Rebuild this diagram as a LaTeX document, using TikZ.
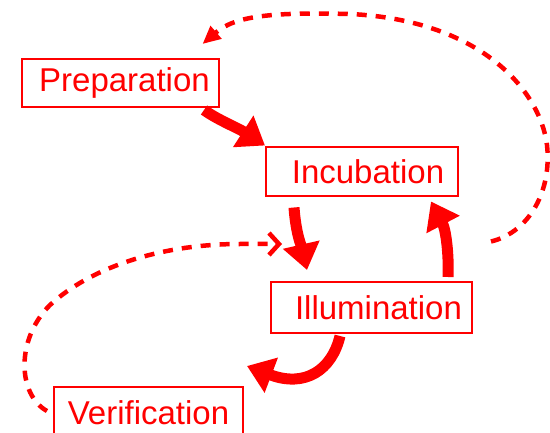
\documentclass[tikz,border=0pt]{standalone}
\usepackage{fontspec}
\setmainfont{Liberation Sans}
\usetikzlibrary{arrows.meta,calc}
\definecolor{rd}{RGB}{255,0,0}
\tikzset{
  box/.style={draw=rd, line width=2pt, fill=white, text=rd, font=\fontsize{33}{36}\selectfont, inner sep=0pt, anchor=center},
  thick arrow/.style={draw=rd, line width=11pt, -{Triangle[length=26pt,width=36pt]}},
  dash line/.style={draw=rd, line width=4.5pt, dash pattern=on 10pt off 9pt}
}
\begin{document}
\begin{tikzpicture}[x=1pt,y=-1pt]
\clip (0,0) rectangle (550,433);
\fill[white] (0,0) rectangle (550,433);
\node[box, minimum width=197pt, minimum height=48pt] (prep) at (120.5,83) {\hspace*{8pt}Preparation};
\node[box, minimum width=192pt, minimum height=49pt] (inc) at (362,172) {\hspace*{12pt}Incubation};
\node[box, minimum width=201pt, minimum height=51pt] (ill) at (371.5,307.5) {\hspace*{14pt}Illumination};
\node[box, minimum width=189pt, minimum height=52pt] (ver) at (148.5,413) {Verification};
% thick arrows
\draw[thick arrow] ($(prep.south east)+(-16,2)$) .. controls (218,120) and (238,128) .. ($(inc.north west)+(0,-1)$);
\draw[thick arrow] ($(inc.south west)+(29,10)$) .. controls (296,235) and (302,248) .. ($(ill.north west)+(37,-11)$);
\draw[thick arrow] ($(ill.north east)+(-25,-4)$) .. controls (449,255) and (446,230) .. ($(inc.south east)+(-28,4)$);
\draw[thick arrow] ($(ill.south west)+(70,2)$) .. controls (332,370) and (305,388) .. ($(ver.north east)+(3,-20)$);
% dashed connectors
\draw[dash line, -{Triangle[length=18pt,width=16pt]}] ($(inc.south east)+(32,44)$) .. controls (530,232) and (552,190) .. (547,145)
  .. controls (540,90) and (480,20) .. (350,14)
  .. controls (270,12) and (235,16) .. ($(prep.north)+(82,-14)$);
\draw[dash line, -{Straight Barb[length=10pt,width=22pt,line width=4.5pt]}] ($(ver.west)+(-6,-2)$) .. controls (18,395) and (15,340) .. (50,305)
  .. controls (90,268) and (160,244) .. (240,244)
  -- ($(ill.north west)+(12,-37)$);
\end{tikzpicture}
\end{document}
